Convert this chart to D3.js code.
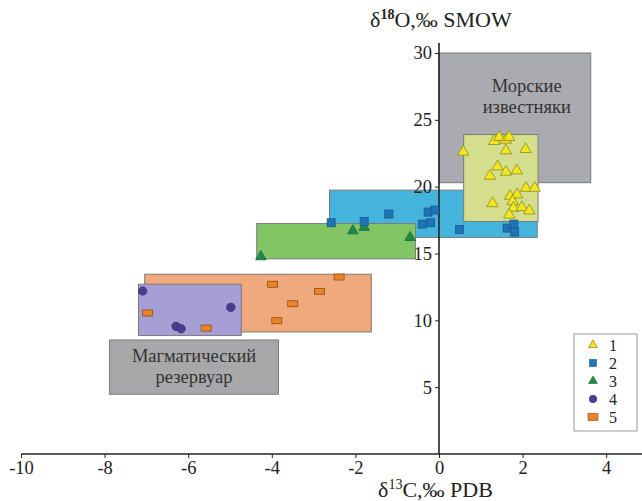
<!DOCTYPE html>
<html>
<head>
<meta charset="utf-8">
<script src="https://cdn.jsdelivr.net/npm/d3@7"></script>
<style>
	body { margin: 0; background: #fff; }
	svg { display: block; }
	svg text { font-family: "Liberation Serif", "Times New Roman", serif !important; }
</style>
</head>
<body>
<svg id="chart" width="642" height="501"></svg>
<script>
// x = d13C, y = d18O for each group
const group1 = [
	[0.58, 22.6], [1.32, 23.4], [1.44, 23.7], [1.60, 23.5], [1.68, 23.7], [1.60, 22.7],
	[2.07, 22.8], [1.40, 21.5], [1.22, 20.8], [1.60, 21.1], [1.86, 21.2], [2.08, 19.9],
	[2.29, 19.9], [1.70, 19.3], [1.87, 19.4], [1.28, 18.75], [1.76, 18.9], [1.78, 18.4],
	[1.98, 18.45], [2.16, 18.2], [1.68, 17.9]
];
const group2 = [
	[-2.58, 17.3], [-1.79, 17.4], [-1.20, 17.95], [-0.26, 18.1], [-0.10, 18.25], [-0.40, 17.2],
	[-0.20, 17.3], [0.49, 16.8], [1.63, 16.9], [1.79, 17.2], [1.81, 16.6]
];
const group3 = [[-4.26, 14.76], [-2.06, 16.7], [-1.79, 16.96], [-0.69, 16.2]];
const group4 = [[-7.09, 12.2], [-4.98, 10.97], [-6.29, 9.55], [-6.17, 9.37]];
const group5 = [
	[-6.97, 10.55], [-5.57, 9.42], [-3.98, 12.7], [-2.86, 12.17], [-2.39, 13.24],
	[-3.50, 11.24], [-3.88, 9.97]
];

// field boxes: [x0, x1, y0, y1]
const marineBox = [0.0, 3.63, 20.3, 30];
const magmaBox = [-7.88, -3.84, 4.47, 8.53];
const box5 = [-7.04, -1.62, 9.13, 13.45];
const box4 = [-7.19, -4.73, 8.86, 12.7];
const box2 = [-2.62, 2.35, 16.2, 19.74];
const box3 = [-4.36, -0.56, 14.6, 17.24];
const box1 = [0.59, 2.37, 17.4, 23.9];

const xTicks = [-10, -8, -6, -4, -2, 0, 2, 4];
const yTicks = [5, 10, 15, 20, 25, 30];
const legendLabels = ['1', '2', '3', '4', '5'];

const svg = d3.select('#chart');
const x = d3.scaleLinear().domain([-10, 0]).range([21, 439]);
const y = d3.scaleLinear().domain([0, 30]).range([454, 53]);

function drawBox(b, fill, stroke) {
	svg.append('rect')
		.attr('x', x(b[0]))
		.attr('y', y(b[3]))
		.attr('width', x(b[1]) - x(b[0]))
		.attr('height', y(b[2]) - y(b[3]))
		.attr('fill', fill)
		.attr('stroke', stroke || '#7a7a7a')
		.attr('stroke-width', 1);
}

drawBox(marineBox, '#aaabb0');
drawBox(magmaBox, '#a8a8ab');
drawBox(box5, '#f0a97c');
drawBox(box4, '#a69fd6');
drawBox(box2, '#45b4dc');
drawBox(box3, '#82c564');
drawBox(box1, '#d4de8c');

// box captions
const capMarine = svg.append('text')
	.attr('x', x(2.1)).attr('y', y(27.1))
	.attr('text-anchor', 'middle').attr('font-size', 18.5).attr('fill', '#333');
capMarine.append('tspan').attr('x', x(2.1)).text('Морские');
capMarine.append('tspan').attr('x', x(2.1)).attr('dy', 21).text('известняки');

const capMagma = svg.append('text')
	.attr('x', x(-5.86)).attr('y', y(6.9))
	.attr('text-anchor', 'middle').attr('font-size', 18.5).attr('fill', '#333');
capMagma.append('tspan').attr('x', x(-5.86)).text('Магматический');
capMagma.append('tspan').attr('x', x(-5.86)).attr('dy', 21.5).text('резервуар');

// axes
const xAxis = svg.append('g')
	.attr('transform', `translate(0,${y(0)})`)
	.call(d3.axisBottom(x).tickValues(xTicks).tickSize(4).tickPadding(3).tickFormat(d3.format('d')));
xAxis.select('.domain').attr('d', `M${x(-10)},0H642`).attr('stroke', '#222').attr('stroke-width', 1.6);

const yAxis = svg.append('g')
	.attr('transform', `translate(${x(0)},0)`)
	.call(d3.axisLeft(y).tickValues(yTicks).tickSize(4).tickPadding(3));
yAxis.select('.domain').attr('d', `M0,${y(0)}V${y(30.75)}`).attr('stroke', '#222').attr('stroke-width', 1.6);

svg.selectAll('.tick text')
	.attr('font-size', 18.5)
	.attr('fill', '#222');
svg.selectAll('.tick line').attr('stroke', '#222');
xAxis.selectAll('.tick text').text(d => d < 0 ? '-' + Math.abs(d) : d);

// axis titles
const yTitle = svg.append('text').attr('x', 370).attr('y', 27).attr('font-size', 22).attr('fill', '#222');
yTitle.append('tspan').text('δ');
yTitle.append('tspan').attr('font-size', 14).attr('dy', -8).attr('font-weight', 'bold').text('18');
yTitle.append('tspan').attr('dy', 8).text('O,‰ SMOW');

const xTitle = svg.append('text').attr('x', 378).attr('y', 497).attr('font-size', 22).attr('fill', '#222');
xTitle.append('tspan').text('δ');
xTitle.append('tspan').attr('font-size', 14).attr('dy', -8).text('13');
xTitle.append('tspan').attr('dy', 8).text('C,‰ PDB');

// points
const tri = d3.symbol().type(d3.symbolTriangle);

svg.append('g').selectAll('path')
	.data(group3).join('path')
	.attr('d', tri.size(48)())
	.attr('transform', d => `translate(${x(d[0])},${y(d[1])})`)
	.attr('fill', '#1f8a45').attr('stroke', '#16663a').attr('stroke-width', 0.8);

svg.append('g').selectAll('rect')
	.data(group2).join('rect')
	.attr('x', d => x(d[0]) - 4).attr('y', d => y(d[1]) - 4)
	.attr('width', 8).attr('height', 8)
	.attr('fill', '#1f74b6').attr('stroke', '#175a8c').attr('stroke-width', 0.8);

svg.append('g').selectAll('circle')
	.data(group4).join('circle')
	.attr('cx', d => x(d[0])).attr('cy', d => y(d[1])).attr('r', 4.3)
	.attr('fill', '#4b3d8e').attr('stroke', '#3a2f70').attr('stroke-width', 0.6);

svg.append('g').selectAll('rect')
	.data(group5).join('rect')
	.attr('x', d => x(d[0]) - 5).attr('y', d => y(d[1]) - 3)
	.attr('width', 10).attr('height', 6)
	.attr('fill', '#ec8424').attr('stroke', '#8a4e18').attr('stroke-width', 0.8);

svg.append('g').selectAll('path')
	.data(group1).join('path')
	.attr('d', tri.size(56)())
	.attr('transform', d => `translate(${x(d[0])},${y(d[1])})`)
	.attr('fill', '#f3e61c').attr('stroke', '#8c8a2a').attr('stroke-width', 0.8);

// legend
const legend = svg.append('g').attr('transform', 'translate(574,334)');
legend.append('rect').attr('width', 63).attr('height', 97)
	.attr('fill', '#fff').attr('stroke', '#999').attr('stroke-width', 1);
const rowY = i => 11 + i * 18;
const legendSyms = [
	g => g.append('path').attr('d', tri.size(34)()).attr('fill', '#f3e61c').attr('stroke', '#8c8a2a').attr('stroke-width', 0.8),
	g => g.append('rect').attr('x', -3.5).attr('y', -3.5).attr('width', 7).attr('height', 7).attr('fill', '#1f74b6').attr('stroke', '#175a8c').attr('stroke-width', 0.6),
	g => g.append('path').attr('d', tri.size(34)()).attr('fill', '#1f8a45').attr('stroke', '#16663a').attr('stroke-width', 0.6),
	g => g.append('circle').attr('r', 4).attr('fill', '#4b3d8e'),
	g => g.append('rect').attr('x', -5).attr('y', -3.5).attr('width', 10).attr('height', 7).attr('fill', '#ec8424').attr('stroke', '#8a4e18').attr('stroke-width', 0.6)
];
legendLabels.forEach((lab, i) => {
	const g = legend.append('g').attr('transform', `translate(19,${rowY(i)})`);
	legendSyms[i](g);
	legend.append('text').attr('x', 35).attr('y', rowY(i) + 5.5)
		.attr('font-size', 16).attr('fill', '#222').text(lab);
});
</script>
</body>
</html>
